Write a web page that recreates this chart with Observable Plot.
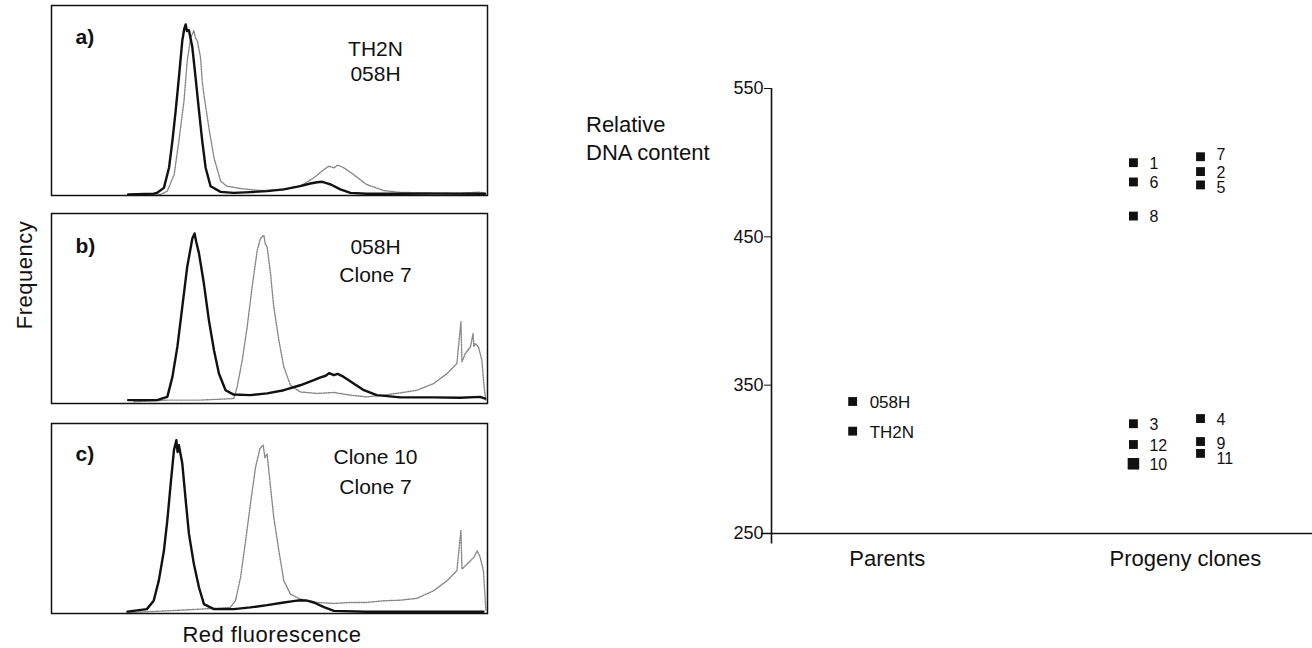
<!DOCTYPE html>
<html><head><meta charset="utf-8">
<script src="https://cdn.jsdelivr.net/npm/d3@7"></script>
<script src="https://cdn.jsdelivr.net/npm/@observablehq/plot@0.6"></script>
<style>
body{margin:0;background:#fff;}
#root{position:relative;width:1312px;height:648px;overflow:hidden;font-family:"Liberation Sans",Arial,sans-serif;color:#111;}
.lbl{position:absolute;white-space:nowrap;color:#111;}
</style></head><body><div id="root"></div>
<script>
// ---------- Left: flow-cytometry histograms (channel, frequency %) ----------
const panelKeys = ["a)", "b)", "c)"];
const panelNames = [["TH2N", "058H"], ["058H", "Clone 7"], ["Clone 10", "Clone 7"]];

const panelA_black = [[45,0.5],[60,1.0],[62,1.4],[66,4],[69,14.6],[71,28.7],[72.9,44.5],[74.8,62],[76.8,81.5],[78,88],[78.8,90],[79.5,86.5],[80.7,87],[82.7,78],[84.6,62],[86.6,44.5],[88.5,28.7],[90.5,14.6],[93.4,4.9],[99.3,1.9],[107,1.4],[116.8,1.8],[126.6,2.3],[136.4,3.2],[146,4.9],[152,6.3],[156,7.0],[159,7.2],[161,6.6],[164,5.8],[169.6,3.2],[175.5,1.4],[185,0.9],[204.8,0.9],[224,1.0],[254.6,0.9]];
const panelA_gray = [[45,0.3],[64,0.5],[68,2.3],[72,11],[74.8,28.7],[77.8,49.8],[79.7,71],[81.7,83],[83.6,86.8],[84.5,83],[85.6,81.5],[87.5,72.7],[88.5,60],[89.5,53],[92.4,35.7],[95.4,19.9],[99.3,7.6],[103,4.9],[111,3.7],[122.7,2.6],[136.4,3.2],[146,4.9],[154,9.3],[160,13.7],[163,15.5],[165.8,14.5],[168,16],[171.6,14.6],[177.4,11],[185,5.8],[195,2.6],[204.8,1.6],[224,1.4],[240,1.2],[251.7,1.8],[255,1]];
const panelB_black = [[45,1.8],[62,1.8],[68,3.5],[71,14],[73.9,29.8],[76.8,50.9],[79.7,72],[82.7,86.8],[84,89.5],[85,85],[86.6,79],[89.5,63],[92.4,43.9],[95.4,28],[98.3,15.8],[102.2,7],[107,4.7],[116.8,4.4],[126.6,5.3],[136.4,7],[146,9.6],[154,12.3],[158,13.8],[161,14.6],[163,16.0],[165.8,14.9],[168,15.6],[171.6,14],[177.4,10.5],[183.4,7],[191,4.4],[204.8,3.2],[224,3.2],[240,3.0],[251.7,3.5],[254.6,2.6]];
const panelB_gray = [[48.5,0.9],[68,1.8],[87.5,1.8],[107,2.6],[109,8.8],[112,22.8],[114.9,40.4],[117.8,61.4],[120.8,80.7],[122.7,86.8],[124.7,88.6],[125.5,84],[126.6,82.5],[128.6,68.4],[130.5,50.9],[133.5,33.3],[136.4,19.3],[140.3,9.6],[146,6.1],[156,5.3],[165.8,5.8],[175.5,4.4],[185,3.5],[195,4.4],[204.8,5.6],[214.6,7],[224.4,10.5],[232.3,15.8],[238,21],[240.4,43],[241,22],[243,26.3],[246,29.8],[247.5,36.8],[248,30],[248.7,31.6],[250.7,29.8],[252.7,22.8],[254,8.8],[255,1.8]];
const panelC_black = [[44.6,1],[56,2.3],[60,6.7],[63,17.3],[66,33],[68,49],[70,68.3],[71.9,86],[73.3,91.2],[74,85],[74.8,88.6],[76.8,78.9],[78.8,59.5],[80.7,41.9],[83.6,26],[86.6,13.7],[89.5,4.9],[95.4,2.3],[107,2.3],[116.8,3.2],[126.6,4.4],[136.4,5.8],[142,6.5],[146,7.0],[150,6.8],[154,5.8],[160,3.4],[165.8,1.4],[185,0.9],[224,0.9],[253.6,0.9]];
const panelC_gray = [[44.6,0.5],[68,1.4],[87.5,2.3],[105,3.2],[108,6.7],[111,19],[114,38.4],[116.8,57.7],[119.8,77],[122.4,86.8],[124.3,88.6],[125.3,82],[126.6,84],[128.6,66.5],[130.5,50.7],[133.5,33],[136.4,17.3],[140.3,10.2],[146,7.6],[156,5.8],[165.8,5.3],[175.5,5.8],[185,5.8],[195,6.7],[204.8,7],[214.6,8],[224.4,12],[232.3,17.3],[238,22.5],[240.4,43.7],[241,23.4],[244,26],[248,29.6],[250,33],[251.7,29.6],[253.6,22.5],[254.6,8.5],[255,1.4]];

// ---------- Right: relative DNA content ----------
const parentLabels = ["058H", "TH2N"];
const parentValues = [339, 319];
const progenyLabels = ["1", "6", "8", "3", "12", "10", "7", "2", "5", "4", "9", "11"];
const progenyValues = [500, 487, 464, 324, 310, 297, 504, 494, 485, 327.5, 312, 304];
const progenyColumn = [1, 1, 1, 1, 1, 1, 2, 2, 2, 2, 2, 2];
const yTicks = [250, 350, 450, 550];
const groupLabels = ["Parents", "Progeny clones"];

// ---------- layout ----------
const root = document.getElementById("root");
function place(el, left, top) { el.style.position = "absolute"; el.style.left = left + "px"; el.style.top = top + "px"; root.appendChild(el); }
function label(text, css) { const d = document.createElement("div"); d.className = "lbl"; d.innerHTML = text; Object.assign(d.style, css); root.appendChild(d); return d; }

const FONT = "'Liberation Sans', Arial, sans-serif";
const panelSeries = [[panelA_black, panelA_gray], [panelB_black, panelB_gray], [panelC_black, panelC_gray]];
const panelTop = [5, 213, 423];
const keyDy = [32, 33, 31];
const nameDy = [[44, 69], [34, 62], [34, 64]];
const toPts = arr => arr.map(([c, f]) => ({c, f}));

panelSeries.forEach(([black, gray], i) => {
  const chart = Plot.plot({
    width: 490, height: 194, marginLeft: 51, marginRight: 3, marginTop: 2, marginBottom: 2,
    style: {fontFamily: FONT, color: "#111", background: "transparent", overflow: "visible"},
    x: {domain: [0, 256], axis: null},
    y: {domain: [0, 100], axis: null},
    marks: [
      Plot.line(toPts(gray), {x: "c", y: "f", stroke: "#858585", strokeWidth: 1.4, strokeDasharray: "1.2 1.3"}),
      Plot.line(toPts(black), {x: "c", y: "f", stroke: "#111", strokeWidth: 2.4}),
      Plot.frame({stroke: "#111", strokeWidth: 1.5}),
      Plot.text([panelKeys[i]], {text: d => d, frameAnchor: "top-left", dx: 24, dy: keyDy[i], textAnchor: "start", lineAnchor: "middle", fontSize: 21, fontWeight: "bold"}),
      Plot.text([panelNames[i][0]], {text: d => d, frameAnchor: "top-left", dx: 324, dy: nameDy[i][0], textAnchor: "middle", lineAnchor: "middle", fontSize: 21, letterSpacing: "1px"}),
      Plot.text([panelNames[i][1]], {text: d => d, frameAnchor: "top-left", dx: 324, dy: nameDy[i][1], textAnchor: "middle", lineAnchor: "middle", fontSize: 21, letterSpacing: "1px"})
    ]
  });
  place(chart, 0, panelTop[i] - 2);
});

label("Frequency", {left: (25 - 100) + "px", top: (275 - 13) + "px", width: "200px", textAlign: "center", fontSize: "22px", lineHeight: "26px", transform: "rotate(-90deg)", letterSpacing: "0.5px"});
label("Red fluorescence", {left: (272 - 150) + "px", top: (635 - 13) + "px", width: "300px", textAlign: "center", fontSize: "22px", lineHeight: "26px", letterSpacing: "0.5px"});

// right chart
const colX = {parents: 0.15, 1: 0.669, 2: 0.793};
const groupX = [0.214, 0.765];
const labelNudges = [{dy: 1, keep: l => !["7", "5", "11", "9"].includes(l)}, {dy: -2, keep: l => l === "7"}, {dy: 3, keep: l => l === "5"}, {dy: 2, keep: l => l === "9"}, {dy: 5, keep: l => l === "11"}];
const parents = parentLabels.map((l, i) => ({label: l, value: parentValues[i]}));
const progeny = progenyLabels.map((l, i) => ({label: l, value: progenyValues[i], col: progenyColumn[i]}));

const right = Plot.plot({
  width: 752, height: 648, marginLeft: 211, marginRight: 0, marginTop: 88, marginBottom: 115,
  style: {fontFamily: FONT, color: "#111", background: "transparent", fontSize: "18px", overflow: "visible"},
  x: {domain: [0, 1], axis: null},
  y: {domain: [250, 550], ticks: yTicks, tickSize: 7, tickPadding: 1, tickFormat: d => String(d), label: null},
  r: {type: "identity"},
  marks: [
    Plot.ruleX([0], {y1: 243, y2: 550, stroke: "#111", strokeWidth: 1.6}),
    Plot.ruleY([250], {x1: -0.018, x2: 1, stroke: "#111", strokeWidth: 1.6}),
    Plot.dot(parents, {x: () => colX.parents, y: "value", symbol: "square", r: 5, fill: "#111", stroke: null}),
    Plot.text(parents, {x: () => colX.parents, y: "value", text: "label", dx: 17, dy: 1, textAnchor: "start", fontSize: 17}),
    Plot.dot(progeny, {x: d => colX[d.col], y: "value", symbol: "square", r: d => d.label === "10" ? 6.5 : 5, fill: "#111", stroke: null}),
    ...labelNudges.map(g => Plot.text(progeny.filter(d => g.keep(d.label)), {x: d => colX[d.col], y: "value", text: "label", dx: 16, dy: g.dy, textAnchor: "start", fontSize: 16})),
    Plot.text(groupLabels, {x: (d, i) => groupX[i], y: () => 250, text: d => d, dy: 25, textAnchor: "middle", fontSize: 22})
  ]
});
place(right, 560, 0);

label("Relative<br>DNA content", {left: "586px", top: "111px", fontSize: "22px", lineHeight: "28px"});
</script></body></html>
